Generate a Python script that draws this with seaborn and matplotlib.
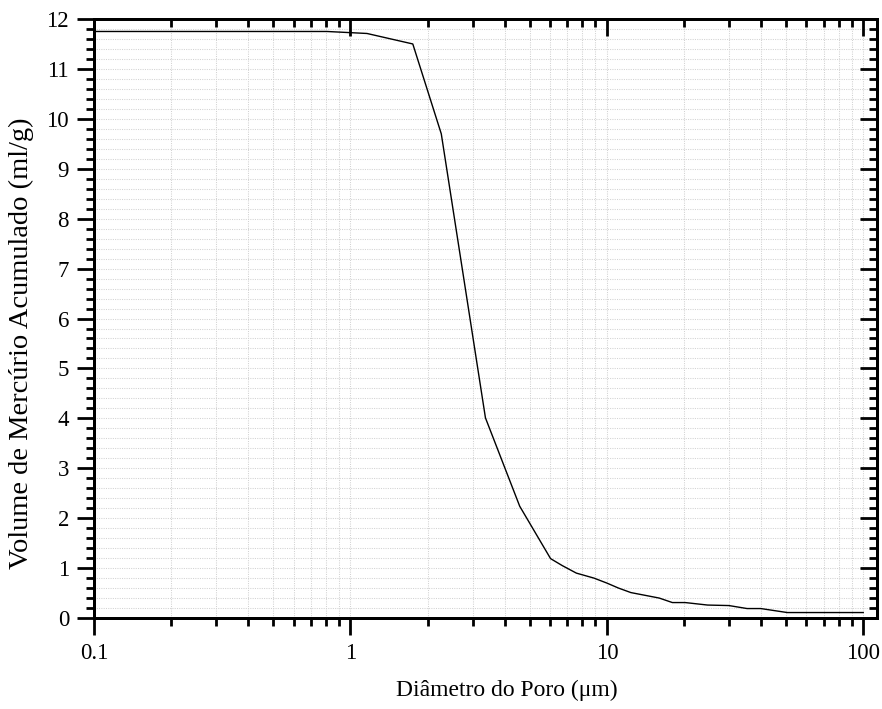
import matplotlib
matplotlib.use("Agg")
import matplotlib.pyplot as plt
import numpy as np
import pandas as pd
import seaborn as sns
from matplotlib.ticker import LogLocator, FixedLocator, MultipleLocator, FuncFormatter, NullFormatter

# Cumulative intruded mercury volume versus pore diameter
diametro_um = [0.1, 0.81, 1.16, 1.75, 2.26, 3.36, 4.57, 6.03, 6.7, 7.6, 8.9,
               10.0, 11.1, 12.4, 16.0, 18.0, 20.2, 24.7, 29.9, 35.2, 39.8,
               50.5, 100.0]
volume_ml_g = [11.75, 11.75, 11.71, 11.50, 9.70, 4.01, 2.24, 1.19, 1.05, 0.90,
               0.80, 0.70, 0.60, 0.51, 0.40, 0.31, 0.31, 0.26, 0.25, 0.19,
               0.19, 0.11, 0.11]

x_ticks = [0.1, 1, 10, 100]
x_tick_labels = ["0.1", "1", "10", "100"]
y_ticks = list(range(0, 13))

df = pd.DataFrame({"diametro": diametro_um, "volume": volume_ml_g})

sns.set_theme(style="ticks")
plt.rcParams["font.family"] = ["Liberation Serif", "DejaVu Serif"]

fig = plt.figure(figsize=(8.82, 7.09), dpi=100)
ax = fig.add_axes([0.1066, 0.1283, 0.8877, 0.8449])

sns.lineplot(data=df, x="diametro", y="volume", ax=ax, color="black",
             linewidth=1.0, estimator=None, sort=False)

XLIM = (0.1, 113)
YLIM = (0, 12)
ax.set_xscale("log")
ax.set_xlim(*XLIM)
ax.set_ylim(*YLIM)


def setup_x(axis):
    axis.xaxis.set_major_locator(FixedLocator(x_ticks))
    axis.xaxis.set_minor_locator(LogLocator(base=10, subs=np.arange(2, 10), numticks=20))
    axis.xaxis.set_minor_formatter(NullFormatter())


def setup_y(axis):
    axis.yaxis.set_major_locator(FixedLocator(y_ticks))
    axis.yaxis.set_minor_locator(MultipleLocator(0.2))


setup_x(ax)
setup_y(ax)
ax.xaxis.set_major_formatter(FuncFormatter(
    lambda v, p: x_tick_labels[x_ticks.index(v)] if v in x_ticks else ""))

ax.grid(True, which="both", axis="both", color="#d2d2d2", linestyle=(0, (1, 1.2)),
        linewidth=0.75)
ax.set_axisbelow(True)

for s in ax.spines.values():
    s.set_color("black")
    s.set_linewidth(2.0)

ax.tick_params(which="major", direction="out", length=12, width=2, color="black",
               labelsize=16.5, labelcolor="black", pad=6,
               bottom=True, left=True, top=False, right=False)
ax.tick_params(which="minor", direction="out", length=6, width=2, color="black",
               bottom=True, left=True, top=False, right=False)

# Mirrored ticks on the top and right sides, pointing inward
ax_top = ax.twiny()
ax_top.set_xscale("log")
ax_top.set_xlim(*XLIM)
setup_x(ax_top)
ax_top.xaxis.set_major_formatter(NullFormatter())
ax_top.tick_params(which="major", direction="in", length=12, width=2, color="black",
                   top=True, bottom=False, labeltop=False, labelbottom=False)
ax_top.tick_params(which="minor", direction="in", length=6, width=2, color="black",
                   top=True, bottom=False)

ax_right = ax.twinx()
ax_right.set_ylim(*YLIM)
setup_y(ax_right)
ax_right.yaxis.set_major_formatter(NullFormatter())
ax_right.tick_params(which="major", direction="in", length=12, width=2, color="black",
                     right=True, left=False, labelright=False, labelleft=False)
ax_right.tick_params(which="minor", direction="in", length=6, width=2, color="black",
                     right=True, left=False)

for a in (ax_top, ax_right):
    for s in a.spines.values():
        s.set_color("black")
        s.set_linewidth(2.0)

ax.set_xlabel("Diâmetro do Poro (μm)", fontsize=17, color="black")
ax.set_ylabel("Volume de Mercúrio Acumulado (ml/g)", fontsize=20.5, color="black")
ax.xaxis.set_label_coords(0.527, -0.103)
ax.yaxis.set_label_coords(-0.077, 0.458)

fig.savefig("out.png", dpi=100)
